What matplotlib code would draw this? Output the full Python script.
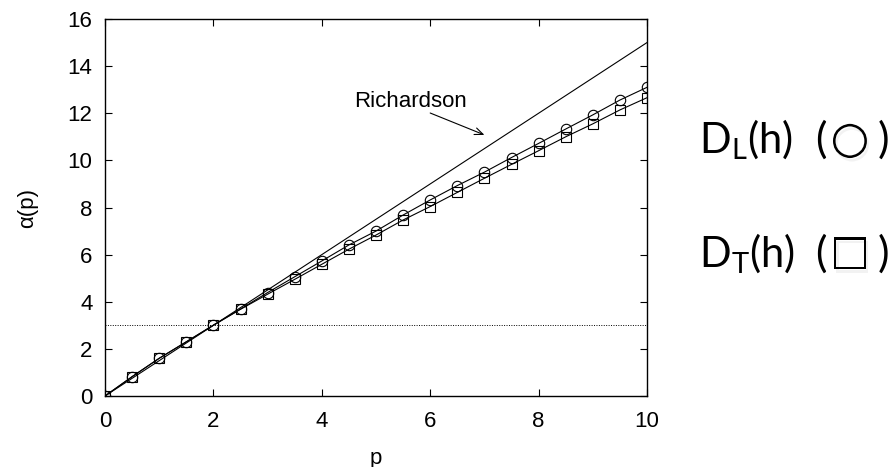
import matplotlib
matplotlib.use('Agg')
import matplotlib.pyplot as plt
import matplotlib.patheffects as pe
import numpy as np

plt.rcParams['font.family'] = ['Liberation Sans', 'DejaVu Sans']
plt.rcParams['mathtext.fontset'] = 'custom'
plt.rcParams['mathtext.rm'] = 'Lato'

# moment order p and scaling exponents alpha(p)
p = [0, 0.5, 1, 1.5, 2, 2.5, 3, 3.5, 4, 4.5, 5,
     5.5, 6, 6.5, 7, 7.5, 8, 8.5, 9, 9.5, 10]
alpha_L = [0, 0.82, 1.6, 2.3, 3.01, 3.69, 4.39, 5.06, 5.73, 6.41, 7.0,
           7.68, 8.32, 8.93, 9.5, 10.12, 10.72, 11.33, 11.93, 12.56, 13.1]
alpha_T = [0, 0.82, 1.6, 2.3, 3.0, 3.68, 4.32, 4.95, 5.59, 6.23, 6.83,
           7.47, 8.04, 8.64, 9.24, 9.83, 10.41, 11.0, 11.55, 12.14, 12.66]

# Richardson law alpha = 3p/2 and the reference level alpha = 3
rich_p = [0, 10]
rich_alpha = [0, 15]
ref_level = 3

fig = plt.figure(figsize=(8.91, 4.67), dpi=100)
ax = fig.add_axes([105 / 891, 1 - 396 / 467, 542 / 891, 377 / 467])

ax.plot(rich_p, rich_alpha, color='black', lw=0.8)
ax.plot([0, 10], [ref_level, ref_level], color='black', lw=0.7, ls=(0, (1, 1.5)))
ax.plot(p, alpha_L, color='black', lw=0.8, marker='o', ms=7.5, mfc='none', mew=0.8)
ax.plot(p, alpha_T, color='black', lw=0.8, marker='s', ms=7, mfc='none', mew=0.8)

ax.text(5.63, 12.48, 'Richardson', ha='center', va='center', fontsize=16)
ax.annotate('', xy=(7.0, 11.08), xytext=(6.0, 12.01),
            arrowprops=dict(arrowstyle='->,head_length=0.6,head_width=0.25',
                            color='black', lw=0.8, shrinkA=0, shrinkB=0))

ax.set_xlim(0, 10)
ax.set_ylim(0, 16)
ax.set_xticks(np.arange(0, 11, 2))
ax.set_yticks(np.arange(0, 17, 2))
ax.tick_params(direction='in', length=5, width=0.8, top=True, right=True,
               labelsize=16)
ax.tick_params(axis='x', pad=11)
ax.tick_params(axis='y', pad=9)
for s in ax.spines.values():
    s.set_linewidth(1.0)
ax.set_xlabel('p', fontsize=16, labelpad=11)
ax.set_ylabel('α(p)', fontsize=16, labelpad=21)

# series legend on the right
shadow = [pe.SimplePatchShadow(offset=(1.5, -2.5), shadow_rgbFace='0.6', alpha=0.12),
          pe.Normal()]
legend_rows = [(r'$\mathrm{D_L(h)}$', '○', 32, 153, 140),
               (r'$\mathrm{D_T(h)}$', '□', 30, 267, 252)]
for name, sym, sym_size, y_base, y_sym in legend_rows:
    yf = 1 - y_base / 467
    fig.text(699 / 891, yf, name, fontsize=30, va='baseline', ha='left')
    fig.text(815 / 891, yf, '(', fontsize=31, va='baseline', ha='left',
             family=['Lato'])
    fig.text(850 / 891, 1 - y_sym / 467, sym, fontsize=sym_size, va='center',
             ha='center', family=['DejaVu Sans'], path_effects=shadow)
    fig.text(889 / 891, yf, ')', fontsize=31, va='baseline', ha='right',
             family=['Lato'])

fig.savefig('out.png', dpi=100)
